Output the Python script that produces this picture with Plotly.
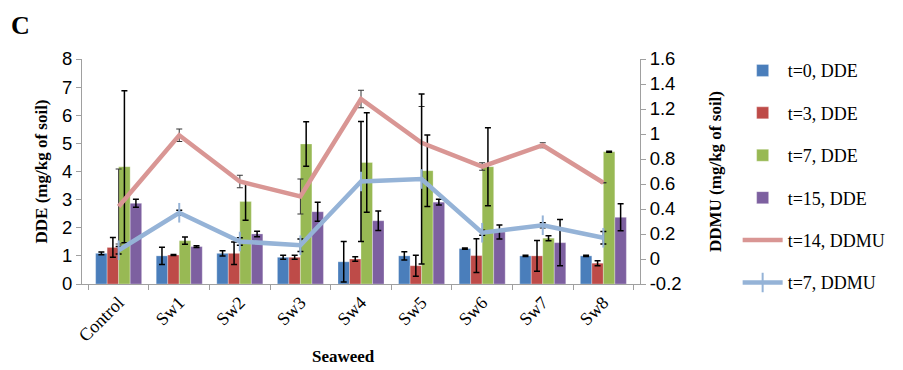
import plotly.graph_objects as go

categories = ["Control", "Sw1", "Sw2", "Sw3", "Sw4", "Sw5", "Sw6", "Sw7", "Sw8"]

dde_t0 = [1.09, 1.00, 1.09, 0.95, 0.79, 1.00, 1.26, 1.00, 1.00]
dde_t0_err = [0.05, 0.31, 0.09, 0.07, 0.72, 0.15, 0.02, 0.02, 0.02]
dde_t3 = [1.30, 1.03, 1.09, 0.95, 0.89, 0.65, 1.01, 1.00, 0.74]
dde_t3_err = [0.35, 0.02, 0.40, 0.07, 0.08, 0.37, 0.60, 0.55, 0.09]
dde_t7 = [4.17, 1.54, 2.93, 4.98, 4.32, 4.03, 4.17, 1.63, 4.70]
dde_t7_err = [2.70, 0.13, 0.66, 0.79, 1.77, 1.27, 1.39, 0.09, 0.02]
dde_t15 = [2.87, 1.33, 1.78, 2.57, 2.25, 2.91, 1.85, 1.47, 2.37]
dde_t15_err = [0.14, 0.03, 0.10, 0.34, 0.35, 0.10, 0.25, 0.82, 0.48]

ddmu_t14 = [0.42, 0.99, 0.62, 0.50, 1.28, 0.93, 0.74, 0.91, 0.61]
ddmu_t14_err = [0.30, 0.05, 0.05, 0.14, 0.07, 0.29, 0.03, 0.02, 0.0]
ddmu_t7 = [0.07, 0.37, 0.14, 0.11, 0.62, 0.64, 0.21, 0.27, 0.17]
ddmu_t7_err = [0.03, 0.02, 0.03, 0.05, 0.48, 0.68, 0.02, 0.02, 0.05]

left_ticks = [0, 1, 2, 3, 4, 5, 6, 7, 8]
right_ticks = [-0.2, 0, 0.2, 0.4, 0.6, 0.8, 1, 1.2, 1.4, 1.6]
right_tick_text = ["-0.2", "0", "0.2", "0.4", "0.6", "0.8", "1", "1.2", "1.4", "1.6"]

serif = "Liberation Serif"
sans = "Liberation Sans"

fig = go.Figure()

bar_specs = [
    ("t=0, DDE", dde_t0, dde_t0_err, "#4A7EBB"),
    ("t=3, DDE", dde_t3, dde_t3_err, "#BE4B48"),
    ("t=7, DDE", dde_t7, dde_t7_err, "#98B954"),
    ("t=15, DDE", dde_t15, dde_t15_err, "#7D60A0"),
]
for i, (name, vals, errs, col) in enumerate(bar_specs):
    fig.add_trace(go.Bar(
        x=categories, y=vals, name=name, legendgroup=f"g{i}",
        marker=dict(color=col, line=dict(color="rgba(255,255,255,0.6)", width=0.5)),
        error_y=dict(type="data", array=errs, visible=True, color="black",
                     thickness=1.5, width=3),
        yaxis="y",
    ))

fig.add_trace(go.Scatter(
    x=categories, y=ddmu_t14, name="t=14, DDMU", legendgroup="g4",
    mode="lines", line=dict(color="#D99694", width=4.5),
    error_y=dict(type="data", array=ddmu_t14_err, visible=True, color="#333333",
                 thickness=1, width=3),
    yaxis="y2",
))
fig.add_trace(go.Scatter(
    x=categories, y=ddmu_t7, name="t=7, DDMU", legendgroup="g5",
    mode="lines+markers", line=dict(color="#95B3D7", width=4.5),
    marker=dict(symbol="line-ns", size=14, line=dict(color="#95B3D7", width=2)),
    error_y=dict(type="data", array=ddmu_t7_err, visible=True, color="black",
                 thickness=1.5, width=3),
    yaxis="y2",
))

fig.update_layout(
    width=903, height=370,
    margin=dict(l=82, r=260, t=59, b=86),
    paper_bgcolor="white", plot_bgcolor="white",
    barmode="group", bargap=0.24, bargroupgap=0.0,
    showlegend=True,
    legend=dict(x=1.175, xanchor="left", y=1.03, yanchor="top",
                font=dict(family=serif, size=18, color="black"),
                tracegroupgap=16, itemwidth=40, bgcolor="rgba(0,0,0,0)",
                maxheight=360),
    xaxis=dict(
        type="category", showline=True, linecolor="#A0A0A0", linewidth=1,
        ticks="outside", tickson="boundaries", ticklen=5, tickcolor="#A0A0A0",
        tickangle=-45, tickfont=dict(family=serif, size=18, color="black"),
        showgrid=False, zeroline=False,
    ),
    yaxis=dict(
        range=[0, 8], tickvals=left_ticks, showline=True, linecolor="#A0A0A0",
        linewidth=1, ticks="outside", ticklen=5, tickcolor="#A0A0A0",
        tickfont=dict(family=sans, size=18.5, color="black"), showgrid=False,
        zeroline=False,
        title=dict(text="<b>DDE (mg/kg of soil)</b>",
                   font=dict(family=serif, size=17, color="black"), standoff=10),
    ),
    yaxis2=dict(
        range=[-0.2, 1.6], tickvals=right_ticks, ticktext=right_tick_text,
        overlaying="y", side="right", showline=True, linecolor="#A0A0A0",
        linewidth=1, ticks="outside", ticklen=5, tickcolor="#A0A0A0",
        tickfont=dict(family=sans, size=18.5, color="black"), showgrid=False,
        zeroline=False,
        title=dict(text="<b>DDMU (mg/kg of soil)</b>",
                   font=dict(family=serif, size=17, color="black"), standoff=28),
    ),
    annotations=[
        dict(text="<b>Seaweed</b>", xref="paper", yref="paper",
             x=0.469, y=-0.32, xanchor="center", yanchor="middle",
             showarrow=False, font=dict(family=serif, size=17, color="black")),
        dict(text="<b>C</b>", xref="paper", yref="paper",
             x=-0.13, y=1.151, xanchor="left", yanchor="middle",
             showarrow=False, font=dict(family=serif, size=26, color="black")),
    ],
)

fig.write_html("out.html")
